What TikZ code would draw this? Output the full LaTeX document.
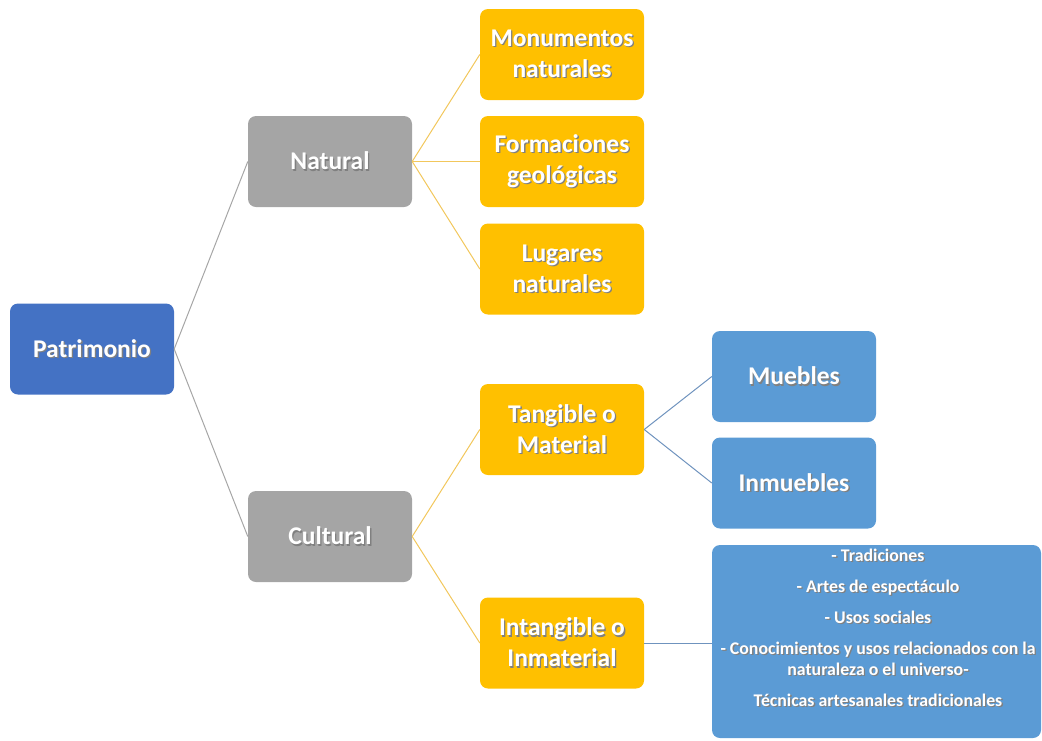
\documentclass[tikz,border=0pt]{standalone}
\usepackage{fontspec}
\setmainfont{Carlito}
\definecolor{cblue}{HTML}{4472C4}
\definecolor{cgray}{HTML}{A5A5A5}
\definecolor{cyellow}{HTML}{FFC000}
\definecolor{clight}{HTML}{5B9BD5}
\definecolor{lgray}{HTML}{A6A6A6}
\definecolor{lyellow}{HTML}{F2C75C}
\definecolor{lblue}{HTML}{6F93BE}
\newcommand\sh[1]{\leavevmode\rlap{\kern1.3pt\raisebox{-1.3pt}{\color{black!50}#1}}#1}
\begin{document}
\begin{tikzpicture}[x=1pt,y=-1pt,
  box/.style={rounded corners=8pt, minimum width=164pt, minimum height=91pt, inner sep=0pt,
    align=center, text=white, font=\fontsize{25.5}{31}\selectfont\bfseries},
  bluebox/.style={box, fill=cblue},
  graybox/.style={box, fill=cgray},
  yelbox/.style={box, fill=cyellow},
  lightbox/.style={box, fill=clight},
  gline/.style={draw=lgray, line width=1pt},
  yline/.style={draw=lyellow, line width=1pt},
  bline/.style={draw=lblue, line width=1pt}]
\useasboundingbox (0,0) rectangle (1042,740);
\node[bluebox] (patrimonio) at (92,349) {\sh{Patrimonio}};
\node[graybox] (natural) at (330,161.5) {\sh{Natural}};
\node[graybox] (cultural) at (330,536.5) {\sh{Cultural}};
\node[yelbox] (monumentos) at (562,54.5) {\sh{Monumentos}\\\sh{naturales}};
\node[yelbox] (formaciones) at (562,161.5) {\sh{Formaciones}\\\sh{geológicas}};
\node[yelbox] (lugares) at (562,269) {\sh{Lugares}\\\sh{naturales}};
\node[yelbox] (tangible) at (562,429.5) {\sh{Tangible o}\\\sh{Material}};
\node[yelbox] (intangible) at (562,643) {\sh{Intangible o}\\\sh{Inmaterial}};
\node[lightbox] (muebles) at (794,376.5) {\sh{Muebles}};
\node[lightbox] (inmuebles) at (794,483) {\sh{Inmuebles}};
\node[fill=clight, rounded corners=8pt, minimum width=329pt, minimum height=193pt, inner sep=0pt] (intbox) at (876.5,641.5) {};
\node[text=white, align=center, inner sep=0pt, font=\fontsize{17.8}{21}\selectfont\bfseries] (inttext) at (878,628)
  {\sh{- Tradiciones}\\[10pt]\sh{- Artes de espectáculo}\\[10pt]\sh{- Usos sociales}\\[10pt]\sh{- Conocimientos y usos relacionados con la}\\\sh{naturaleza o el universo-}\\[10pt]\sh{Técnicas artesanales tradicionales}};
\draw[gline] (patrimonio.east) -- (natural.west);
\draw[gline] (patrimonio.east) -- (cultural.west);
\draw[yline] (natural.east) -- (monumentos.west);
\draw[yline] (natural.east) -- (formaciones.west);
\draw[yline] (natural.east) -- (lugares.west);
\draw[yline] (cultural.east) -- (tangible.west);
\draw[yline] (cultural.east) -- (intangible.west);
\draw[bline] (tangible.east) -- (muebles.west);
\draw[bline] (tangible.east) -- (inmuebles.west);
\draw[bline] (intangible.east) -- (intangible.east -| intbox.west);
\end{tikzpicture}
\end{document}
